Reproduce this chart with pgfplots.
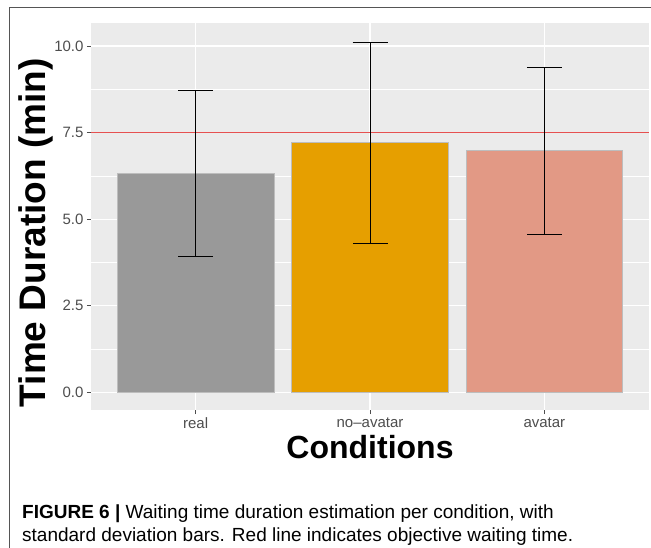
\documentclass[border=0pt]{standalone}
\usepackage{pgfplots}
\pgfplotsset{compat=1.18}
\usepackage{pgfplotstable}
\usepackage{fontspec}
\setmainfont{Liberation Sans}
\definecolor{panelbg}{HTML}{EBEBEB}
\definecolor{tickgray}{HTML}{4D4D4D}
\definecolor{cReal}{HTML}{999999}
\definecolor{cNo}{HTML}{E69F00}
\definecolor{cAv}{HTML}{E29985}
\definecolor{barline}{HTML}{BDBDBD}
\definecolor{redline}{HTML}{E65050}
\definecolor{framecol}{HTML}{555555}
\pgfplotstableread{
x y e
1 6.33 2.40
2 7.21 2.90
3 6.98 2.41
}\errdata
\begin{document}
\begin{tikzpicture}[x=1pt,y=1pt]
\useasboundingbox (0,0) rectangle (651,547);
\draw[framecol, line width=0.9pt] (9,-5) -- (9,540) -- (660,540);
\begin{axis}[
  at={(91pt,137pt)}, anchor=south west,
  scale only axis, width=558pt, height=386.5pt,
  xmin=0.4, xmax=3.6, ymin=-0.507, ymax=10.65,
  axis background/.style={fill=panelbg},
  axis line style={draw=none},
  xtick={1,2,3}, xticklabels={real,no--avatar,avatar},
  ytick={0,2.5,5,7.5,10},
  yticklabels={0.0,2.5,5.0,7.5,10.0},
  minor ytick={1.25,3.75,6.25,8.75},
  tick pos=left, tick align=outside,
  major tick length=4pt, minor tick length=0pt,
  tick style={tickgray, line width=0.8pt},
  grid=major, major grid style={white, line width=1.1pt},
  minor grid style={white, line width=0.55pt},
  yminorgrids=true,
  ticklabel style={font=\fontsize{15}{17}\selectfont, text=tickgray},
  /pgf/number format/assume math mode=true,
  xlabel={Conditions}, ylabel={Time Duration (min)},
  xlabel style={font=\fontsize{32}{36}\bfseries, at={(axis description cs:0.5,0)}, anchor=center, yshift=-37pt},
  ylabel style={font=\fontsize{37}{40}\bfseries, at={(axis description cs:0,0.5)}, anchor=center, yshift=55pt, xshift=-16pt},
  clip=false,
]
\addplot[ybar, bar width=0.9, bar shift=0pt, fill=cReal, draw=barline, line width=0.8pt] coordinates {(1,6.33)};
\addplot[ybar, bar width=0.9, bar shift=0pt, fill=cNo, draw=barline, line width=0.8pt] coordinates {(2,7.21)};
\addplot[ybar, bar width=0.9, bar shift=0pt, fill=cAv, draw=barline, line width=0.8pt] coordinates {(3,6.98)};
\addplot[redline, line width=0.9pt] coordinates {(0.4,7.5) (3.6,7.5)};
\addplot[draw=none, mark=none,
  error bars/.cd, y dir=both, y explicit,
  error bar style={black, line width=1pt},
  error mark options={black, rotate=90, mark size=17.5pt, line width=1pt}]
  table[x=x, y=y, y error=e] {\errdata};
\end{axis}
\node[anchor=base west, font=\fontsize{19}{21}\selectfont, inner sep=0pt] at (22,29) {\textbf{FIGURE 6 |} Waiting time duration estimation per condition, with};
\node[anchor=base west, font=\fontsize{19}{21}\selectfont, inner sep=0pt] at (22,6) {standard deviation bars. Red line indicates objective waiting time.};
\end{tikzpicture}
\end{document}
